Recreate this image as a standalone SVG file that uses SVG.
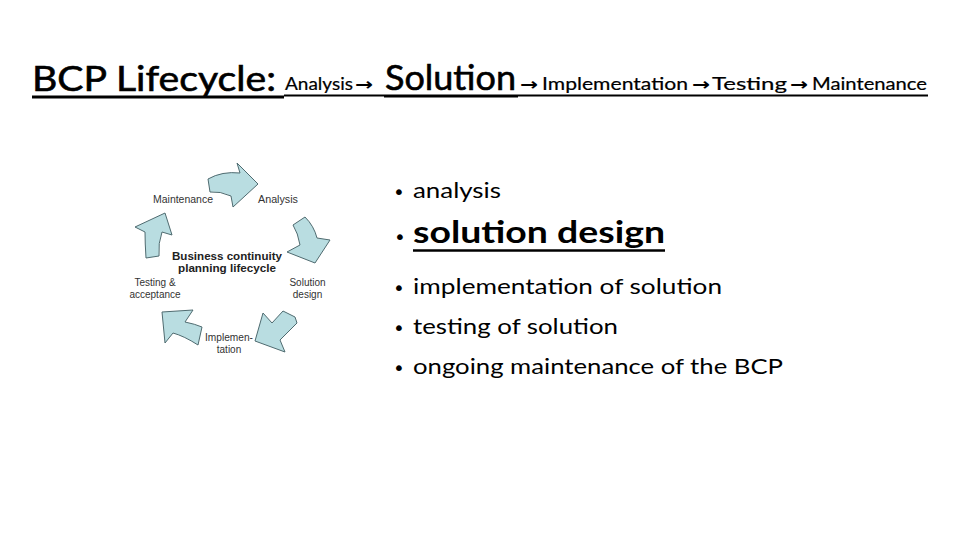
<svg xmlns="http://www.w3.org/2000/svg" width="960" height="540" viewBox="0 0 960 540">
<style>
.big{font-family:Lato,"Open Sans","Liberation Sans",sans-serif;font-size:35px;fill:#000;stroke:#000;stroke-width:0.6}
.sm{font-family:Lato,"Open Sans","Liberation Sans",sans-serif;font-size:17px;fill:#000;stroke:#000;stroke-width:0.2}
.arr{font-family:"DejaVu Sans",sans-serif;font-size:17px;font-weight:bold;fill:#000}
.bl{font-family:Lato,"Open Sans","Liberation Sans",sans-serif;font-size:21px;fill:#000}
.blb{font-family:Lato,"Open Sans","Liberation Sans",sans-serif;font-size:31px;font-weight:bold;fill:#000}
.dot{font-family:"DejaVu Sans",sans-serif;font-size:20px;fill:#000}
.lbl{font-family:"Liberation Sans",Arial,sans-serif;font-size:10px;fill:#333}
.ctr{font-family:"Liberation Sans",Arial,sans-serif;font-size:11px;font-weight:bold;fill:#222}
.cyc{fill:#b9dde1;stroke:#4f6b70;stroke-width:1;stroke-linejoin:round}
.ul{stroke:#000}
</style>
<rect width="960" height="540" fill="#fff"/>
<g id="title">
<text class="big" x="32" y="91" textLength="244" lengthAdjust="spacingAndGlyphs">BCP Lifecycle:</text>
<text class="sm" x="285" y="90" textLength="68" lengthAdjust="spacingAndGlyphs">Analysis</text>
<text class="arr" x="355" y="90" textLength="18" lengthAdjust="spacingAndGlyphs">→</text>
<text class="big" x="385" y="90" textLength="131" lengthAdjust="spacingAndGlyphs">Solution</text>
<text class="arr" x="520" y="90" textLength="18" lengthAdjust="spacingAndGlyphs">→</text>
<text class="sm" x="542" y="90" textLength="146" lengthAdjust="spacingAndGlyphs">Implementation</text>
<text class="arr" x="692" y="90" textLength="18" lengthAdjust="spacingAndGlyphs">→</text>
<text class="sm" x="712" y="90" textLength="75" lengthAdjust="spacingAndGlyphs">Testing</text>
<text class="arr" x="790" y="90" textLength="18" lengthAdjust="spacingAndGlyphs">→</text>
<text class="sm" x="812" y="90" textLength="115" lengthAdjust="spacingAndGlyphs">Maintenance</text>
<line class="ul" x1="32" y1="97" x2="284" y2="97" stroke-width="3"/>
<line class="ul" x1="284" y1="95.5" x2="384" y2="95.5" stroke-width="2"/>
<line class="ul" x1="384" y1="96" x2="518" y2="96" stroke-width="3"/>
<line class="ul" x1="518" y1="95.5" x2="928" y2="95.5" stroke-width="2"/>
</g>
<g id="cycle">
<g id="arrow-top"><path class="cyc" d="M208,179 Q222,171 240,173 L237,163 L258,184 L233,207 L231,196 Q220,191 210,192 Z"/></g>
<g id="arrow-right"><path class="cyc" d="M293,225 L305,217 Q314,226 317,238 L330,240 L315,263 L287,252 L300,245 Q298,233 293,225 Z"/></g>
<g id="arrow-bottom-right"><path class="cyc" d="M263,313 L272,323 L283,311 L295,317 L297,323 L280,340 L285,352 L255,341 Z"/></g>
<g id="arrow-bottom-left"><path class="cyc" d="M162,312 L193,310 L185,322 Q195,324 202,327 L198,345 Q184,336 173,333 L165,343 Z"/></g>
<g id="arrow-left"><path class="cyc" d="M135,227 L165,213 L172,235 L162,232 Q158,243 159,256 L146,258 Q145,243 145,232 Z"/></g>
<g id="lbl-maint"><text class="lbl" x="153" y="203" textLength="60" lengthAdjust="spacingAndGlyphs">Maintenance</text></g>
<g id="lbl-analysis"><text class="lbl" x="258" y="203" textLength="40" lengthAdjust="spacingAndGlyphs">Analysis</text></g>
<g id="lbl-center"><text class="ctr" x="227" y="260" text-anchor="middle" textLength="110" lengthAdjust="spacingAndGlyphs">Business continuity</text>
<text class="ctr" x="227" y="272" text-anchor="middle" textLength="98" lengthAdjust="spacingAndGlyphs">planning lifecycle</text></g>
<g id="lbl-solution"><text class="lbl" x="307.5" y="286" text-anchor="middle">Solution</text><text class="lbl" x="307.5" y="298" text-anchor="middle">design</text></g>
<g id="lbl-impl"><text class="lbl" x="229" y="341" text-anchor="middle" textLength="48" lengthAdjust="spacingAndGlyphs">Implemen-</text><text class="lbl" x="229" y="353" text-anchor="middle">tation</text></g>
<g id="lbl-test"><text class="lbl" x="155" y="286" text-anchor="middle">Testing &amp;</text><text class="lbl" x="155" y="298" text-anchor="middle">acceptance</text></g>
</g>
<g id="bullets">
<text class="dot" x="393" y="199">•</text>
<text class="bl" x="413" y="198" textLength="88" lengthAdjust="spacingAndGlyphs">analysis</text>
<text class="dot" x="394" y="244" font-size="28">•</text>
<text class="blb" x="413" y="243" textLength="252" lengthAdjust="spacingAndGlyphs">solution design</text>
<line class="ul" x1="413" y1="250.5" x2="665" y2="250.5" stroke-width="2.5"/>
<text class="dot" x="393" y="295">•</text>
<text class="bl" x="413" y="294" textLength="309" lengthAdjust="spacingAndGlyphs">implementation of solution</text>
<text class="dot" x="393" y="335">•</text>
<text class="bl" x="413" y="334" textLength="205" lengthAdjust="spacingAndGlyphs">testing of solution</text>
<text class="dot" x="393" y="375">•</text>
<text class="bl" x="413" y="374" textLength="370" lengthAdjust="spacingAndGlyphs">ongoing maintenance of the BCP</text>
</g>
</svg>
